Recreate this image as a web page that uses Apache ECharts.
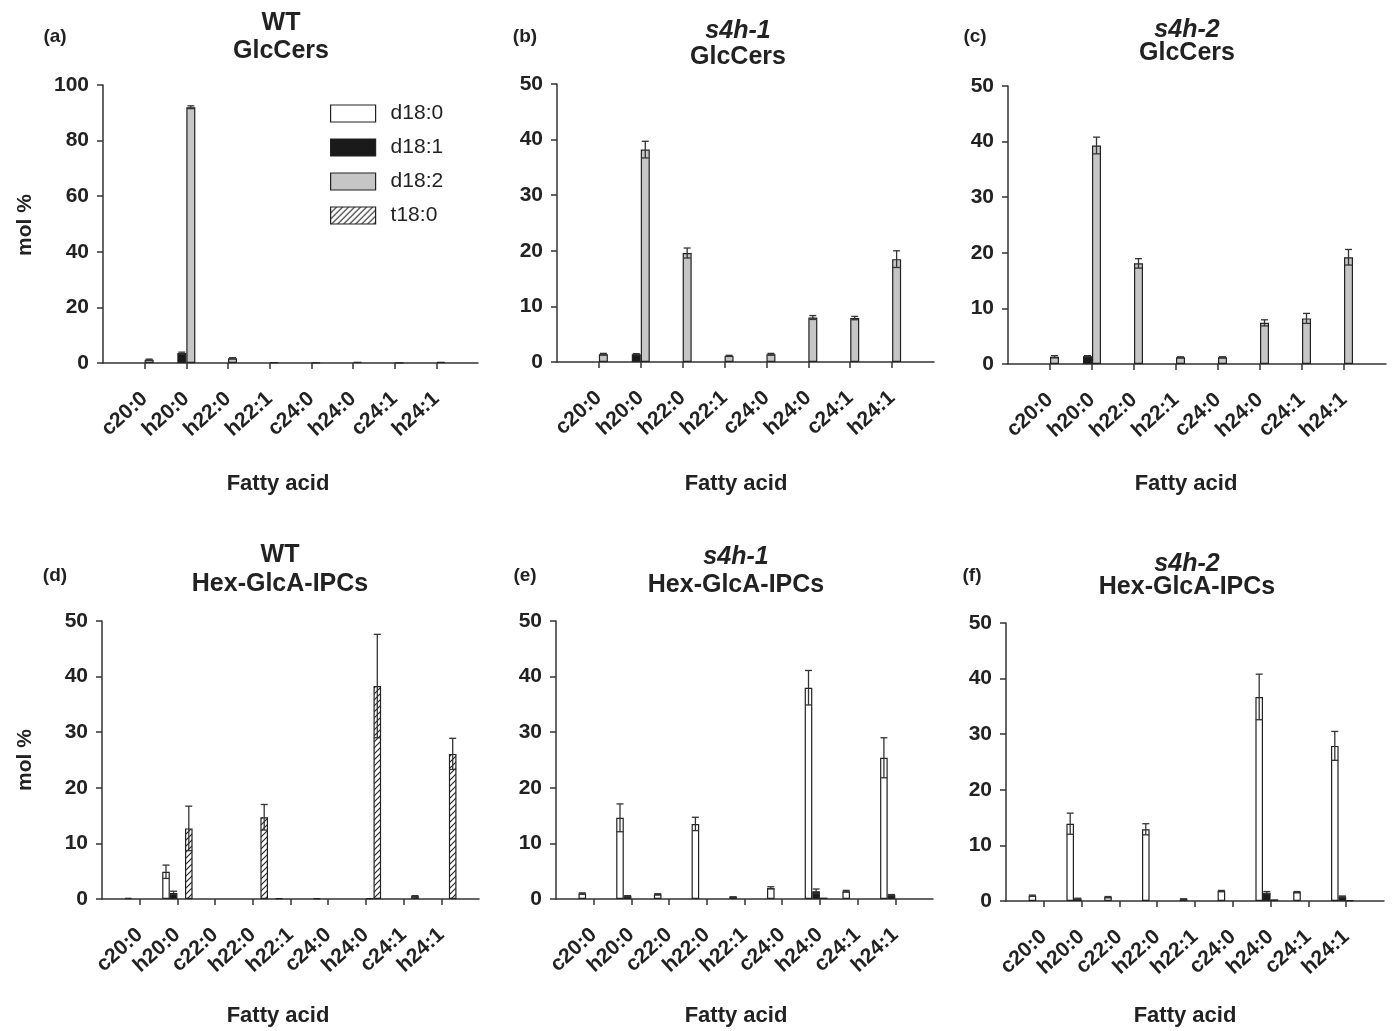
<!DOCTYPE html>
<html>
<head>
<meta charset="utf-8">
<script src="https://cdn.jsdelivr.net/npm/echarts@6/dist/echarts.min.js"></script>
<style>
html,body{margin:0;padding:0;background:#fff;}
#chart{width:1392px;height:1031px;}
</style>
</head>
<body>
<div id="chart"></div>
<script>
// ---------------- DATA ----------------
const seriesNames = ['d18:0', 'd18:1', 'd18:2', 't18:0'];
const glcCats = ['c20:0', 'h20:0', 'h22:0', 'h22:1', 'c24:0', 'h24:0', 'c24:1', 'h24:1'];
const ipcCats = ['c20:0', 'h20:0', 'c22:0', 'h22:0', 'h22:1', 'c24:0', 'h24:0', 'c24:1', 'h24:1'];

// (a) WT GlcCers
const aD180 = [null, null, null, null, null, null, null, null];
const aD181 = [null, 3.6, null, null, null, null, null, null];
const aD182 = [1.2, 92.0, 1.7, 0.2, 0.1, 0.4, 0.1, 0.4];
const aT180 = [null, null, null, null, null, null, null, null];
const aErrD181 = [0, 0.3, 0, 0, 0, 0, 0, 0];
const aErrD182 = [0.2, 0.5, 0.2, 0, 0, 0, 0, 0];

// (b) s4h-1 GlcCers
const bD180 = [null, null, null, null, null, null, null, null];
const bD181 = [null, 1.4, null, null, null, null, null, null];
const bD182 = [1.4, 38.2, 19.6, 1.1, 1.4, 8.0, 7.9, 18.5];
const bT180 = [null, null, null, null, null, null, null, null];
const bErrD181 = [0, 0.1, 0, 0, 0, 0, 0, 0];
const bErrD182 = [0.15, 1.5, 0.9, 0.1, 0.15, 0.35, 0.3, 1.5];

// (c) s4h-2 GlcCers
const cD180 = [null, null, null, null, null, null, null, null];
const cD181 = [null, 1.4, null, null, null, null, null, null];
const cD182 = [1.3, 39.3, 18.1, 1.2, 1.2, 7.4, 8.2, 19.2];
const cT180 = [null, null, null, null, null, null, null, null];
const cErrD181 = [0, 0.1, 0, 0, 0, 0, 0, 0];
const cErrD182 = [0.2, 1.5, 0.85, 0.1, 0.1, 0.55, 0.9, 1.4];

// (d) WT Hex-GlcA-IPCs
const dD180 = [0.2, 4.9, null, null, 0.1, 0.1, null, null, null];
const dD181 = [null, 1.1, null, null, null, null, null, null, null];
const dD182 = [null, null, null, null, null, null, 0.1, null, null];
const dT180 = [null, 12.7, null, 14.7, null, null, 38.3, 0.5, 26.1];
const dErrD180 = [0, 1.2, 0, 0, 0, 0, 0, 0, 0];
const dErrD181 = [0, 0.3, 0, 0, 0, 0, 0, 0, 0];
const dErrT180 = [0, 4.0, 0, 2.3, 0, 0, 9.3, 0.1, 2.8];

// (e) s4h-1 Hex-GlcA-IPCs
const eD180 = [1.0, 14.6, 0.85, 13.5, 0.35, 2.0, 38.0, 1.4, 25.4];
const eD181 = [null, 0.5, null, null, null, null, 1.4, null, 0.7];
const eD182 = [null, null, null, null, null, null, 0.25, null, null];
const eT180 = [null, null, null, null, null, null, null, null, null];
const eErrD180 = [0.1, 2.5, 0.1, 1.2, 0.05, 0.2, 3.1, 0.15, 3.6];
const eErrD181 = [0, 0.1, 0, 0, 0, 0, 0.4, 0, 0.1];

// (f) s4h-2 Hex-GlcA-IPCs
const fD180 = [0.96, 13.9, 0.7, 12.9, 0.35, 1.8, 36.7, 1.6, 27.9];
const fD181 = [null, 0.4, null, null, null, null, 1.5, null, 0.8];
const fD182 = [null, null, null, null, null, null, 0.3, null, 0.15];
const fT180 = [null, null, null, null, null, null, null, null, null];
const fErrD180 = [0.1, 1.9, 0.1, 1.0, 0.05, 0.1, 4.1, 0.1, 2.6];
const fErrD181 = [0, 0.1, 0, 0, 0, 0, 0.2, 0, 0.1];

const yTicksTopLeft = {max: 100, interval: 20};
const yTicksOther = {max: 50, interval: 10};

// ---------------- BUILD ----------------
const FONT = '"Liberation Sans", Arial, Helvetica, sans-serif';
const INK = '#222';

function hatchCanvas() {
  const c = document.createElement('canvas');
  c.width = 6; c.height = 6;
  const g = c.getContext('2d');
  g.fillStyle = '#fff'; g.fillRect(0, 0, 6, 6);
  g.strokeStyle = '#222'; g.lineWidth = 1.1;
  g.beginPath();
  g.moveTo(0, 6); g.lineTo(6, 0);
  g.moveTo(-3, 3); g.lineTo(3, -3);
  g.moveTo(3, 9); g.lineTo(9, 3);
  g.stroke();
  return c;
}
const hatch = {image: hatchCanvas(), repeat: 'repeat'};
const fills = ['#ffffff', '#1a1a1a', '#c6c6c6', hatch];

const panels = [
  {cats: glcCats, vals: [aD180, aD181, aD182, aT180], errs: [null, aErrD181, aErrD182, null], y: yTicksTopLeft,
   grid: {left: 103, top: 85, width: 375, height: 278}, bw: 9},
  {cats: glcCats, vals: [bD180, bD181, bD182, bT180], errs: [null, bErrD181, bErrD182, null], y: yTicksOther,
   grid: {left: 557, top: 84, width: 377, height: 278}, bw: 9},
  {cats: glcCats, vals: [cD180, cD181, cD182, cT180], errs: [null, cErrD181, cErrD182, null], y: yTicksOther,
   grid: {left: 1008, top: 86, width: 378, height: 278}, bw: 9},
  {cats: ipcCats, vals: [dD180, dD181, dD182, dT180], errs: [dErrD180, dErrD181, null, dErrT180], y: yTicksOther,
   grid: {left: 102, top: 621, width: 377, height: 278}, bw: 7.6},
  {cats: ipcCats, vals: [eD180, eD181, eD182, eT180], errs: [eErrD180, eErrD181, null, null], y: yTicksOther,
   grid: {left: 556, top: 621, width: 377, height: 278}, bw: 7.6},
  {cats: ipcCats, vals: [fD180, fD181, fD182, fT180], errs: [fErrD180, fErrD181, null, null], y: yTicksOther,
   grid: {left: 1006, top: 623, width: 378, height: 278}, bw: 7.6}
];

const grids = [], xAxes = [], yAxes = [], series = [];

panels.forEach((p, pi) => {
  grids.push(Object.assign({containLabel: false}, p.grid));
  const axisData = [''].concat(p.cats).concat(['']);
  const n = axisData.length;
  xAxes.push({
    type: 'category', gridIndex: pi, data: axisData, boundaryGap: false,
    axisLine: {lineStyle: {color: '#333', width: 1.5}},
    axisTick: {length: 6, lineStyle: {color: '#333', width: 1.5},
               interval: (i) => i > 0 && i < n - 1},
    axisLabel: {interval: 0, rotate: 42, margin: 33, fontFamily: FONT, fontWeight: 'bold',
                fontSize: 21, color: INK},
    splitLine: {show: false}
  });
  yAxes.push({
    type: 'value', gridIndex: pi, min: 0, max: p.y.max, interval: p.y.interval,
    axisLine: {show: true, lineStyle: {color: '#333', width: 1.5}},
    axisTick: {show: true, length: 6, lineStyle: {color: '#333', width: 1.5}},
    axisLabel: {margin: 14, fontFamily: FONT, fontWeight: 'bold', fontSize: 21, color: INK},
    splitLine: {show: false}
  });
  p.vals.forEach((arr, si) => {
    series.push({
      name: seriesNames[si], type: 'bar', xAxisIndex: pi, yAxisIndex: pi,
      data: [null].concat(arr).concat([null]),
      barWidth: p.bw, barGap: '0%',
      itemStyle: {color: fills[si], borderColor: '#222', borderWidth: 1.2},
      emphasis: {disabled: true}, z: 2
    });
  });
  p.errs.forEach((err, si) => {
    if (!err) return;
    const vals = p.vals[si];
    const d = [];
    err.forEach((e, k) => {
      if (e > 0 && vals[k] != null) d.push([k + 1, vals[k], e]);
    });
    const bw = p.bw;
    series.push({
      type: 'custom', xAxisIndex: pi, yAxisIndex: pi, data: d, z: 5,
      encode: {x: 0, y: 1}, silent: true,
      renderItem: function (params, api) {
        const x = api.value(0), v = api.value(1), e = api.value(2);
        const top = api.coord([x, v + e]);
        const bot = api.coord([x, Math.max(v - e, 0)]);
        const cx = top[0] + (si - 1.5) * bw;
        const cap = 3.5;
        const st = {stroke: '#333', lineWidth: 1.3};
        return {type: 'group', children: [
          {type: 'line', shape: {x1: cx, y1: top[1], x2: cx, y2: bot[1]}, style: st},
          {type: 'line', shape: {x1: cx - cap, y1: top[1], x2: cx + cap, y2: top[1]}, style: st},
          {type: 'line', shape: {x1: cx - cap, y1: bot[1], x2: cx + cap, y2: bot[1]}, style: st}
        ]};
      }
    });
  });
});

function txt(x, y, text, size, opts) {
  return {type: 'text', x: x, y: y, silent: true,
    style: Object.assign({text: text, fontFamily: FONT, fontSize: size, fontWeight: 'bold',
      fill: INK, align: 'center', verticalAlign: 'middle'}, opts || {})};
}

const graphics = [
  txt(55, 37, '(a)', 19), txt(281, 23, 'WT', 25), txt(281, 51, 'GlcCers', 25),
  txt(525, 37, '(b)', 19), txt(738, 31, 's4h-1', 25, {fontStyle: 'italic'}), txt(738, 57, 'GlcCers', 25),
  txt(975, 37, '(c)', 19), txt(1187, 30, 's4h-2', 25, {fontStyle: 'italic'}), txt(1187, 53, 'GlcCers', 25),
  txt(55, 576, '(d)', 19), txt(280, 555, 'WT', 25), txt(280, 584, 'Hex-GlcA-IPCs', 25),
  txt(525, 576, '(e)', 19), txt(736, 557, 's4h-1', 25, {fontStyle: 'italic'}), txt(736, 585, 'Hex-GlcA-IPCs', 25),
  txt(972, 576, '(f)', 19), txt(1187, 564, 's4h-2', 25, {fontStyle: 'italic'}), txt(1187, 587, 'Hex-GlcA-IPCs', 25),
  Object.assign(txt(25, 225, 'mol %', 21), {rotation: Math.PI / 2}),
  Object.assign(txt(25, 760, 'mol %', 21), {rotation: Math.PI / 2}),
  txt(278, 484, 'Fatty acid', 22), txt(736, 484, 'Fatty acid', 22), txt(1186, 484, 'Fatty acid', 22),
  txt(278, 1016, 'Fatty acid', 22), txt(736, 1016, 'Fatty acid', 22), txt(1185, 1016, 'Fatty acid', 22)
];

const chart = echarts.init(document.getElementById('chart'), null, {renderer: 'canvas'});
chart.setOption({
  backgroundColor: '#fff',
  animation: false,
  grid: grids,
  xAxis: xAxes,
  yAxis: yAxes,
  legend: {
    data: seriesNames, orient: 'vertical', left: 325, top: 98,
    itemWidth: 45, itemHeight: 17, itemGap: 13, icon: 'rect',
    selectedMode: false,
    itemStyle: {borderColor: '#222', borderWidth: 1.2},
    textStyle: {fontFamily: FONT, fontSize: 21, color: INK, padding: [0, 0, 0, 10]}
  },
  series: series,
  graphic: graphics
});
</script>
</body>
</html>
